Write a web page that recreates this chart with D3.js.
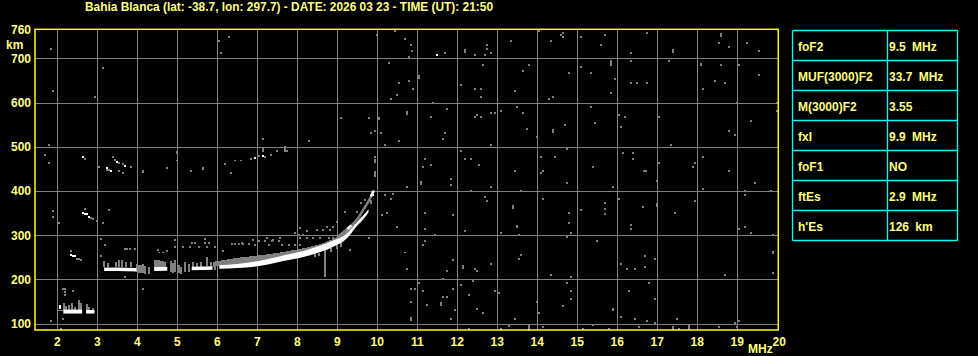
<!DOCTYPE html>
<html><head><meta charset="utf-8">
<script src="https://cdn.jsdelivr.net/npm/d3@7"></script>
<style>
html,body{margin:0;padding:0;background:#000;overflow:hidden;}
svg{display:block;}
text{font-family:"Liberation Sans",Arial,sans-serif;font-weight:bold;fill:#ffff80;}
</style></head><body>
<svg id="c" width="978" height="356"></svg>
<script>
// ---------- DATA ----------
const titleText = "Bahia Blanca (lat: -38.7, lon: 297.7) - DATE: 2026 03 23 - TIME (UT): 21:50";
const xTicks = [2,3,4,5,6,7,8,9,10,11,12,13,14,15,16,17,18,19];
const yTicks = [100,200,300,400,500,600,700];
const paramNames = ["foF2","MUF(3000)F2","M(3000)F2","fxI","foF1","ftEs","h'Es"];
const paramValues = ["9.5 MHz","33.7 MHz","3.55","9.9 MHz","NO","2.9 MHz","126 km"];

// main O trace (white band): [MHz, km low, km high]
const oTraceSegments = [
  [[3.17,219,227],[3.5,219,227],[3.98,218,226]],
  [[4.42,219,228],[4.75,220,228]],
  [[5.36,221,229],[5.88,222,230]],
  [[6.05,224,232],[6.5,226,235],[7.0,230,241],[7.65,242,254],[8.32,255,269],[8.9,274,288],[9.23,292,303],[9.48,320,329],[9.65,336,345],[9.78,352,359]]
];
// Es trace (white band)
const esSegments = [
  [[2.15,123,132],[2.62,123,132]],
  [[2.72,123,131],[2.93,123,131]]
];
// grey echo spread above the F trace
const greyBand = [[5.9,229,240],[6.3,232,246],[6.6,234,250],[7.0,239,254],[7.5,246,260],[8.0,252,268],[8.5,262,278],[8.9,280,292],[9.2,298,308],[9.45,320,332]];
// grey vertical streaks [MHz, km low, km high]
const greyStreaks = [
  [3.17,228,242],[3.27,228,238],[3.47,228,240],[3.55,228,244],[3.62,228,244],[3.72,228,240],[3.85,228,240],
  [4.0,216,234],[4.05,214,232],[4.1,214,232],[4.15,214,234],[4.2,212,230],[4.3,212,228],
  [4.45,229,244],[4.5,229,244],[4.55,229,244],[4.6,229,242],[4.65,229,242],[4.7,229,240],
  [4.85,218,242],[4.9,214,238],[4.95,216,244],[5.05,214,232],[5.1,212,228],[5.2,216,240],[5.3,218,236],
  [5.4,229,240],[5.5,229,238],[5.6,229,240],[5.75,230,250],[5.85,230,240],[5.95,222,236],
  [8.45,250,258],[8.55,252,260],[8.7,256,265],[8.85,262,272],[9.0,268,280],[9.1,274,287],
  [8.68,206,268],
  [2.02,129,131],[2.07,129,131],[2.12,129,131],
  [2.17,131,147],[2.22,131,140],[2.3,131,143],[2.37,131,147],[2.45,131,138],[2.55,131,150],[2.6,131,146],[2.75,131,144],[2.8,131,138],[2.9,131,135]
];
// X trace (upper branch near the F2 cusp)
const xTrace = [[9.0,296],[9.2,310],[9.35,322],[9.5,336],[9.6,350],[9.7,365],[9.8,380],[9.88,395],[9.92,402]];
const xTraceWhite = [[[9.25,314],[9.35,322]],[[9.84,388],[9.91,400]]];
// white echo cells [MHz, km]
const whiteDots = [
  [2.07,135],[2.07,140],[2.33,256],[2.38,254],[2.43,252],
  [2.63,351],[2.68,349],[2.73,347],[2.78,342],[2.63,478],
  [3.48,466],[3.68,457],[3.23,453],[3.33,446],[6.93,475],[7.13,480],
  [9.88,392],[11.49,708]
];
// grey echo / noise cells [MHz, km]
const greyDots = [
  // upper-right noise
  [10.69,743],[10.85,731],[10.87,717],[10.79,703],[11.70,712],[11.04,660],[11.04,655],[10.80,648],[10.90,630],[10.74,579],[10.74,575],[11.39,599],[11.74,585],[11.35,568],[11.70,531],[11.64,517],[11.20,472],[11.14,454],[11.35,459],[11.10,420],[11.10,416],[10.74,409],[11.84,427],[11.84,414],
  [12.19,719],[12.19,715],[12.45,708],[12.75,731],[12.75,721],[12.85,712],[12.70,708],[12.64,685],[12.09,640],[12.45,630],[12.60,630],[12.60,612],[12.50,572],[12.45,567],[12.60,567],[12.85,576],[12.95,576],[12.85,504],[12.09,490],[12.19,472],[12.34,472],[12.55,458],[12.34,400],[12.70,386],[12.75,377],[12.85,409],
  [13.35,739],[13.80,685],[13.65,671],[13.45,626],[13.10,581],[13.50,590],[13.65,576],[13.75,540],[13.99,522],[13.45,445],[13.60,400],[13.40,366],[13.40,362],
  [14.04,761],[14.35,739],[14.60,753],[14.65,757],[14.65,749],[15.10,749],[14.80,667],[14.40,612],[14.30,608],[14.40,538],[14.40,534],[14.69,549],[14.75,495],[14.45,476],[14.10,476],[14.15,445],[14.10,440],[14.75,418],[14.15,382],
  [15.69,752],[15.59,730],[15.10,680],[15.34,667],[15.84,693],[15.84,689],[15.84,685],[15.94,653],[15.84,621],[15.34,590],[15.45,553],[16.04,572],[16.19,567],[16.09,544],[16.14,486],[16.39,486],[16.39,472],[15.39,454],[15.89,409],[16.04,382],[15.69,373],[15.69,359],
  [16.74,757],[16.34,712],[16.34,694],[16.34,644],[16.49,644],[16.74,644],[17.30,694],[17.40,719],[17.40,715],[17.04,567],[17.34,504],[17.04,463],[16.66,445],[16.71,445],[16.99,422],[16.64,363],[16.99,371],[16.99,367],
  [17.94,463],[17.89,454],[18.14,476],[17.94,377],[18.14,404],[18.59,755],[18.59,751],[18.55,734],[18.80,726],[19.25,734],[19.55,716],[18.59,685],[18.09,688],[18.09,684],[19.05,685],[18.44,648],[18.70,644],[18.14,630],[19.55,662],[18.99,599],[19.34,558],[18.80,535],[18.94,526],[18.80,445],[19.45,418],[19.20,400],[19.20,391],[19.85,400],[19.99,599],[19.99,581],
  // lower-right noise
  [11.19,350],[11.89,346],[11.19,314],[11.44,301],[11.18,287],[11.13,279],[10.68,261],[10.73,224],[11.89,243],[11.73,220],[11.63,202],[11.03,193],[10.84,179],[10.94,179],[11.13,175],[11.89,179],[11.63,161],[11.73,161],[10.84,148],[11.23,143],[11.58,146],[11.58,142],[11.94,130],[10.84,113],[10.84,109],[11.84,111],
  [12.18,310],[13.09,306],[12.13,231],[12.13,227],[12.43,224],[12.49,220],[12.84,234],[12.08,188],[12.39,197],[12.29,166],[12.49,134],[12.64,125],[12.94,175],[13.04,170],[13.48,322],[13.48,318],[13.54,301],[13.59,256],[13.54,247],[13.43,111],[13.28,98],[13.28,94],[13.08,89],[12.28,89],[13.78,94],[13.78,90],[13.78,86],[13.98,148],[14.03,125],[14.13,93],[14.34,211],
  [14.79,351],[14.79,328],[14.84,306],[14.74,297],[15.08,356],[14.83,206],[14.73,193],[14.83,175],[14.83,157],[14.63,139],[15.13,89],[15.38,98],[15.68,347],[15.48,288],[15.78,89],[15.88,134],[15.88,130],
  [16.33,324],[16.33,315],[16.08,234],[16.23,224],[16.43,224],[16.68,252],[16.68,229],[16.93,247],[16.78,193],[16.28,175],[16.93,157],[16.08,116],[16.43,111],[16.73,107],[16.93,102],[16.53,93],
  [17.43,351],[17.48,111],[17.38,92],[17.38,88],[17.53,89],[17.78,96],[17.78,92],[17.78,88],[18.68,211],[18.53,93],[19.03,315],[19.18,319],[19.33,306],[19.88,301],[19.88,263],[19.88,259],[19.88,215],[19.03,107],[18.93,102],[18.98,93],
  // upper-left noise
  [1.83,722],[1.88,627],[3.14,677],[2.94,613],[1.78,505],[1.68,482],[1.78,464],[6.03,740],[6.28,749],[6.08,713],[9.98,753],[10.44,762],[10.28,690],[10.53,645],[10.48,618],[10.33,609],[9.08,564],[9.78,564],[10.03,566],[10.03,562],[9.83,532],[9.93,536],[10.08,532],[10.53,514],[10.18,505],[8.28,514],[7.13,518],
  // multiple-hop echoes
  [4.13,446],[4.13,442],[4.98,489],[4.98,485],[4.98,469],[4.73,451],[5.33,446],[5.63,453],[5.63,449],[6.18,460],[6.33,441],[6.43,469],[6.58,469],[6.83,473],[7.03,480],[7.18,478],[7.13,490],[7.13,494],[7.13,498],[7.33,482],[7.48,491],[7.68,491],[7.68,495],[7.68,500],[7.73,491],
  [3.38,478],[3.43,471],[3.53,464],[3.63,460],[3.83,455],[3.28,448],[3.53,446],[3.63,441],[3.03,455],[3.23,448],[2.68,473],[2.68,360],[2.83,340],[2.88,337],[2.98,333],[1.88,355],[1.88,342],[2.03,328],[3.28,356],[3.13,328],
  [9.93,466],[9.93,471],[9.93,477],[9.93,433],[9.93,438],[9.93,444],
  [10.18,391],[10.33,383],[10.4,393],[9.83,372],[9.83,378],[9.68,380],[9.58,372],[10.11,346],[10.23,351],[10.48,319],[9.48,353],[9.19,353],[9.78,293],[9.88,397],
  // lower-left
  [3.08,292],[3.18,279],[3.08,252],[3.69,206],[4.13,179],[1.83,107],[2.09,88],[2.13,111],[2.13,178],[2.2,178],[2.18,172],[2.19,165],[2.38,175],[2.55,152],[2.4,175],
  [2.33,265],[2.48,247],[2.53,247],[2.58,243],
  // dots above main trace
  [3.69,270],[3.82,270],[3.94,270],[4.53,261],[4.65,261],[4.94,274],[5.15,274],[5.32,274],[5.53,274],[5.73,274],[5.36,283],[5.44,283],[5.69,283],[5.78,283],
  [6.36,280],[6.44,280],[6.53,280],[6.65,280],[6.78,280],[7.03,288],[7.19,288],[7.36,288],[7.53,288],[6.94,278],[7.28,278],[7.61,278],[7.78,278],[7.94,278],[8.07,278],
  [8.03,300],[8.15,300],[8.07,293],[8.23,293],[8.4,293],[8.57,293],[8.78,293],[8.9,293],[8.48,312],[8.65,312],[8.82,312],[8.73,319],[8.9,319],[8.98,330],[9.32,267],[5.69,292],
  [3.73,270],[4.52,267],[4.73,265],[4.94,289],[5.94,273],[6.15,265],[6.61,283],[6.9,289],[7.23,293],[7.4,289],[7.57,293],[7.94,304],[8.07,316],[8.23,310]
];

// ---------- DRAW ----------
const svg = d3.select("#c");
const W = 978, H = 356;
svg.append("rect").attr("width", W).attr("height", H).attr("fill", "#000");

const x = d3.scaleLinear().domain([1.4425, 20.025]).range([35, 778.3]);
const y = d3.scaleLinear().domain([85.8, 765.6]).range([330, 29.3]);
const cellF = 0.05, cellH = 4.5;
const cw = x(cellF) - x(0), ch = y(0) - y(cellH);

const GREY = "#808080";
// grid
const g = svg.append("g").attr("shape-rendering", "crispEdges");
g.selectAll("line.vx").data(xTicks).join("line")
  .attr("x1", d => Math.round(x(d)) + 0.5).attr("x2", d => Math.round(x(d)) + 0.5)
  .attr("y1", y.range()[1]).attr("y2", y.range()[0])
  .attr("stroke", GREY).attr("stroke-width", 1);
g.selectAll("line.hy").data(yTicks).join("line")
  .attr("y1", d => Math.round(y(d)) + 0.5).attr("y2", d => Math.round(y(d)) + 0.5)
  .attr("x1", x.range()[0]).attr("x2", x.range()[1])
  .attr("stroke", GREY).attr("stroke-width", 1);

const data = svg.append("g").attr("shape-rendering", "crispEdges");
const area = d3.area().x(d => x(d[0])).y0(d => y(d[1])).y1(d => y(d[2])).curve(d3.curveMonotoneX);

data.append("path").datum(greyBand).attr("d", area).attr("fill", GREY);
data.selectAll("rect.gs").data(greyStreaks).join("rect")
  .attr("x", d => x(d[0]) - cw / 2).attr("width", cw)
  .attr("y", d => y(d[2])).attr("height", d => y(d[1]) - y(d[2]))
  .attr("fill", GREY);
data.selectAll("rect.gd").data(greyDots).join("rect")
  .attr("x", d => x(d[0]) - cw / 2).attr("y", d => y(d[1]) - ch / 2)
  .attr("width", cw).attr("height", ch).attr("fill", GREY);

const line = d3.line().x(d => x(d[0])).y(d => y(d[1])).curve(d3.curveMonotoneX);
data.append("path").datum(xTrace).attr("d", line).attr("fill", "none")
  .attr("stroke", GREY).attr("stroke-width", 2.5).attr("shape-rendering", "auto");

data.selectAll("path.o").data(oTraceSegments.concat(esSegments)).join("path")
  .attr("d", area).attr("fill", "#fff").attr("shape-rendering", "auto");
data.selectAll("path.xw").data(xTraceWhite).join("path")
  .attr("d", line).attr("fill", "none").attr("stroke", "#fff").attr("stroke-width", 2.5).attr("shape-rendering", "auto");
data.selectAll("rect.wd").data(whiteDots).join("rect")
  .attr("x", d => x(d[0]) - cw / 2).attr("y", d => y(d[1]) - ch / 2)
  .attr("width", cw).attr("height", ch).attr("fill", "#fff");

// frame
svg.append("rect")
  .attr("x", x.range()[0]).attr("y", y.range()[1])
  .attr("width", x.range()[1] - x.range()[0]).attr("height", y.range()[0] - y.range()[1])
  .attr("fill", "none").attr("stroke", "#ffff00").attr("stroke-width", 1.5);

// axis labels
svg.selectAll("text.xt").data(xTicks).join("text")
  .attr("x", d => x(d)).attr("y", 346).attr("text-anchor", "middle")
  .style("font-size", "12px").text(d => d);
svg.append("text").attr("x", x(20) + 2).attr("y", 345.5).attr("text-anchor", "middle")
  .style("font-size", "12px").text("20");
svg.append("text").attr("x", 748).attr("y", 352.5).style("font-size", "12px").text("MHz");

svg.selectAll("text.yt").data(yTicks).join("text")
  .attr("x", 31).attr("y", d => y(d) + 4.3).attr("text-anchor", "end")
  .style("font-size", "12px").text(d => d);
svg.append("text").attr("x", 31).attr("y", y.range()[1] + 5).attr("text-anchor", "end")
  .style("font-size", "12px").text("760");
svg.append("text").attr("x", 6).attr("y", 49).style("font-size", "12px").text("km");

// title
svg.append("text").attr("x", 85).attr("y", 11)
  .attr("textLength", 408).attr("lengthAdjust", "spacingAndGlyphs")
  .style("font-size", "12px").text(titleText);

// parameter table
const tx0 = 792.5, tc1 = 887.5, tx1 = 957.5, ty0 = 30.5, rh = 30;
const tg = svg.append("g");
const rows = paramNames.map((n, i) => ({ n, v: paramValues[i], i }));
tg.selectAll("line.r").data(d3.range(paramNames.length + 1)).join("line")
  .attr("x1", tx0).attr("x2", tx1).attr("y1", i => ty0 + i * rh).attr("y2", i => ty0 + i * rh)
  .attr("stroke", "#00ffff").attr("stroke-width", 1.3);
[tx0, tc1, tx1].forEach(xx => tg.append("line")
  .attr("x1", xx).attr("x2", xx).attr("y1", ty0).attr("y2", ty0 + paramNames.length * rh)
  .attr("stroke", "#00ffff").attr("stroke-width", 1.3));
tg.selectAll("text.n").data(rows).join("text")
  .attr("x", tx0 + 5.5).attr("y", d => ty0 + d.i * rh + 20)
  .style("font-size", "12px").text(d => d.n);
tg.selectAll("text.v").data(rows).join("text")
  .attr("x", tc1 + 1.5).attr("y", d => ty0 + d.i * rh + 20)
  .style("font-size", "12px").style("word-spacing", "3px").text(d => d.v);
</script>
</body></html>
